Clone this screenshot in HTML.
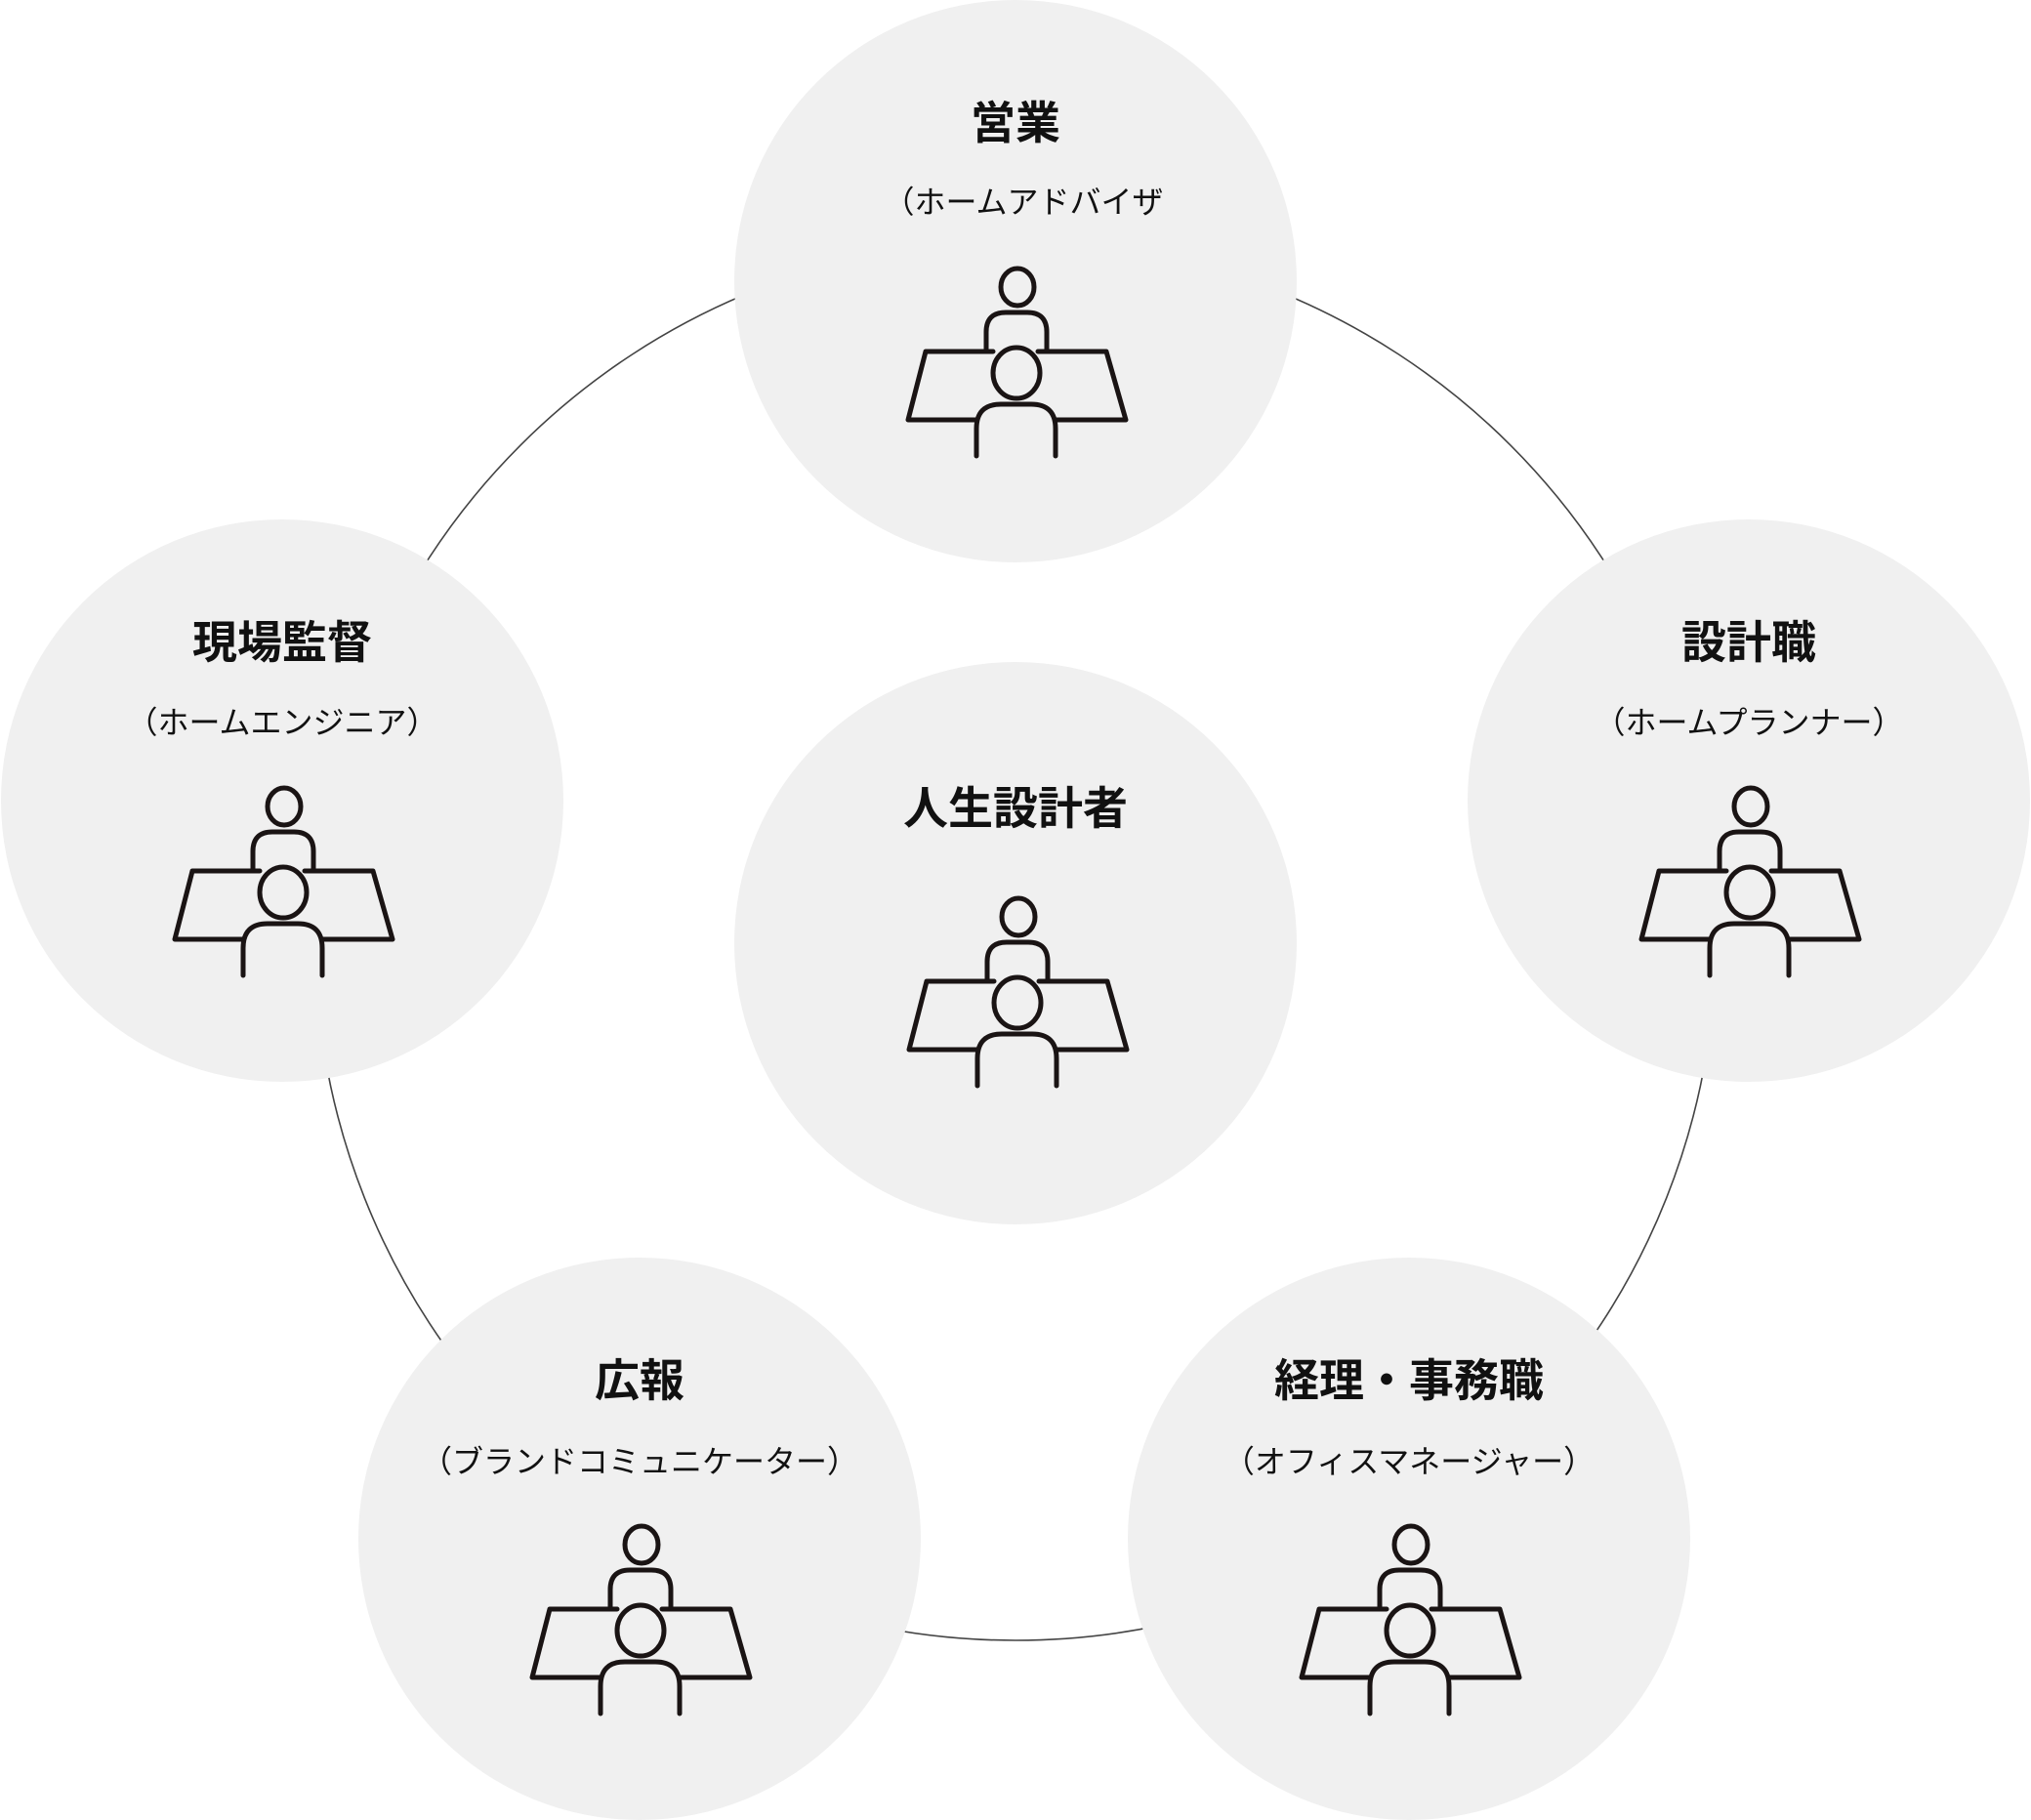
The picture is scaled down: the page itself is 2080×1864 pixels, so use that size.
<!DOCTYPE html>
<html><head><meta charset="utf-8"><style>
html,body{margin:0;padding:0;background:#fff;}
svg{display:block;}
.t{font-family:"Liberation Sans","Noto Sans CJK JP",sans-serif;font-weight:700;font-size:46px;fill:#111;text-anchor:middle;dominant-baseline:central;}
.s{font-family:"Liberation Sans","Noto Sans CJK JP",sans-serif;font-weight:400;font-size:32px;fill:#111;text-anchor:middle;dominant-baseline:central;}
.ic{fill:none;stroke:#1a1414;stroke-width:5;stroke-linecap:round;stroke-linejoin:round;}
</style></head><body>
<svg width="2080" height="1864" viewBox="0 0 2080 1864" xmlns="http://www.w3.org/2000/svg">
<defs>
<g id="icon" class="ic">
  <ellipse cx="113" cy="21" rx="17" ry="19"/>
  <path d="M81 86 V67 Q81 47 101 47 H123 Q143 47 143 67 V86"/>
  <path d="M88 87 H19 L1 157 H71"/>
  <path d="M134 87 H204 L224 157 H152"/>
  <ellipse cx="112" cy="109" rx="24" ry="26"/>
  <path d="M71 194 V166 Q71 141 96 141 H127 Q152 141 152 166 V194"/>
</g>
</defs>
<circle cx="1040" cy="963" r="717" fill="none" stroke="#444" stroke-width="1.6"/>

<circle cx="1040" cy="288" r="288" fill="#f0f0f0"/>
<circle cx="289" cy="820" r="288" fill="#f0f0f0"/>
<circle cx="1791" cy="820" r="288" fill="#f0f0f0"/>
<circle cx="1040" cy="966" r="288" fill="#f0f0f0"/>
<circle cx="655" cy="1576" r="288" fill="#f0f0f0"/>
<circle cx="1443" cy="1576" r="288" fill="#f0f0f0"/>

<text class="t" x="1040" y="126">営業</text>
<text class="s" x="1048" y="207">（ホームアドバイザ</text>
<use href="#icon" x="929" y="273"/>

<text class="t" x="289" y="658">現場監督</text>
<text class="s" x="289" y="740">（ホームエンジニア）</text>
<use href="#icon" x="178" y="805"/>

<text class="t" x="1791" y="658">設計職</text>
<text class="s" x="1791" y="740">（ホームプランナー）</text>
<use href="#icon" x="1680" y="805"/>

<text class="t" x="1040" y="828">人生設計者</text>
<use href="#icon" x="930" y="918"/>

<text class="t" x="655" y="1414">広報</text>
<text class="s" x="655" y="1497">（ブランドコミュニケーター）</text>
<use href="#icon" x="544" y="1561"/>

<text class="t" x="1443" y="1414">経理・事務職</text>
<text class="s" x="1443" y="1497">（オフィスマネージャー）</text>
<use href="#icon" x="1332" y="1561"/>
</svg>
</body></html>
